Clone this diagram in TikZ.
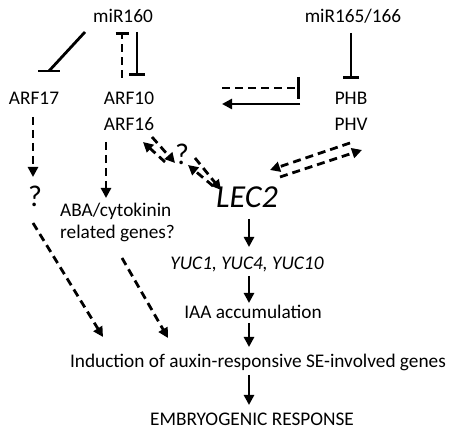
\documentclass[tikz,border=0pt]{standalone}
\usepackage{fontspec}
\setmainfont{Carlito}
\usetikzlibrary{arrows.meta}

\begin{document}
\begin{tikzpicture}[x=1pt,y=1pt,
  lbl/.style={font=\fontsize{19.3}{22}\selectfont,inner sep=0pt,anchor=base},
  act/.style={line width=2.8pt,-{Triangle[width=10pt,length=10pt]}},
  dact/.style={act,dash pattern=on 8pt off 5pt},
  inh/.style={line width=2.8pt,-{Bar[width=16pt]}},
  dinh/.style={inh,dash pattern=on 8pt off 5pt}]
  \useasboundingbox (0,0) rectangle (454,430);
  % regulators and targets
  \node[lbl] (mir160) at (123,407) {miR160};
  \node[lbl] (mir165) at (353,407) {miR165/166};
  \node[lbl] (arf17) at (34,325) {ARF17};
  \node[lbl] (arf10) at (129,325) {ARF10};
  \node[lbl] (arf16) at (129,299) {ARF16};
  \node[lbl] (phb) at (351,325) {PHB};
  \node[lbl] (phv) at (351,299) {PHV};
  \node[lbl,font=\fontsize{30}{30}\selectfont] (qarf) at (35,223) {?};
  \node[lbl,font=\fontsize{30}{30}\selectfont] (qmid) at (182,265) {?};
  \node[lbl,font=\fontsize{32}{32}\selectfont\itshape] (lec2) at (247,222) {LEC2};
  \node[lbl,align=left,anchor=north west] (aba) at (60,227) {ABA/cytokinin\\related genes?};
  % LEC2 pathway
  \node[lbl,font=\fontsize{19.3}{22}\selectfont\itshape] (yuc) at (247,160) {YUC1, YUC4, YUC10};
  \node[lbl] (iaa) at (253,111) {IAA accumulation};
  \node[lbl] (induct) at (258,62) {Induction of auxin-responsive SE-involved genes};
  \node[lbl] (embryo) at (252,5) {EMBRYOGENIC RESPONSE};

  % miR160 and miR165/166 repression
  \draw[line width=2.8pt] ([shift={(-38pt,-9pt)}]mir160.base) -- ([shift={(15pt,34pt)}]arf17.base);
  \draw[line width=2.8pt] ([shift={(4pt,34pt)}]arf17.base) -- ([shift={(26pt,34pt)}]arf17.base);
  \draw[dinh,-{Bar[width=13pt]}] ([shift={(-7pt,27pt)}]arf10.base) -- ([shift={(-1pt,-9pt)}]mir160.base);
  \draw[inh] ([shift={(14pt,-9pt)}]mir160.base) -- ([shift={(8pt,29pt)}]arf10.base);
  \draw[inh] ([shift={(-2pt,-10pt)}]mir165.base) -- ([shift={(0pt,26pt)}]phb.base);
  \draw[dinh,-{Bar[width=22pt]}] ([shift={(93pt,17pt)}]arf10.base) -- ([shift={(-51pt,17pt)}]phb.base);
  \draw[act] ([shift={(-51pt,1pt)}]phb.base) -- ([shift={(93pt,1pt)}]arf10.base);

  % ARF branches
  \draw[dact] ([shift={(-1pt,-12pt)}]arf17.base) -- ([shift={(-2pt,30pt)}]qarf.base);
  \draw[dact] ([shift={(-23pt,-11pt)}]arf16.base) -- ([shift={(46pt,5pt)}]aba.north west);
  \draw[dact] ([shift={(-2pt,-16pt)}]qarf.base) -- ([shift={(-155pt,31pt)}]induct.base);
  \draw[dact] ([shift={(62pt,-55pt)}]aba.north west) -- ([shift={(-90pt,30pt)}]induct.base);

  % two-way links to LEC2
  \draw[dact] ([shift={(-17pt,3pt)}]qmid.base) -- ([shift={(14pt,-11pt)}]arf16.base);
  \draw[dact] ([shift={(23pt,-6pt)}]arf16.base) -- ([shift={(-7pt,2pt)}]qmid.base);
  \draw[dact] ([shift={(-34pt,22pt)}]lec2.base) -- ([shift={(6pt,0pt)}]qmid.base);
  \draw[dact] ([shift={(13pt,7pt)}]qmid.base) -- ([shift={(-26pt,18pt)}]lec2.base);
  \draw[dact] ([shift={(-1pt,-12pt)}]phv.base) -- ([shift={(23pt,38pt)}]lec2.base);
  \draw[dact] ([shift={(33pt,31pt)}]lec2.base) -- ([shift={(11pt,-19pt)}]phv.base);

  % main cascade
  \draw[act] ([shift={(2pt,-11pt)}]lec2.base) -- ([shift={(2pt,23pt)}]yuc.base);
  \draw[act] ([shift={(2pt,-6pt)}]yuc.base) -- ([shift={(-4pt,16pt)}]iaa.base);
  \draw[act] ([shift={(-4pt,-4pt)}]iaa.base) -- ([shift={(-9pt,21pt)}]induct.base);
  \draw[act] ([shift={(-9pt,-7pt)}]induct.base) -- ([shift={(-3pt,20pt)}]embryo.base);
\end{tikzpicture}
\end{document}
